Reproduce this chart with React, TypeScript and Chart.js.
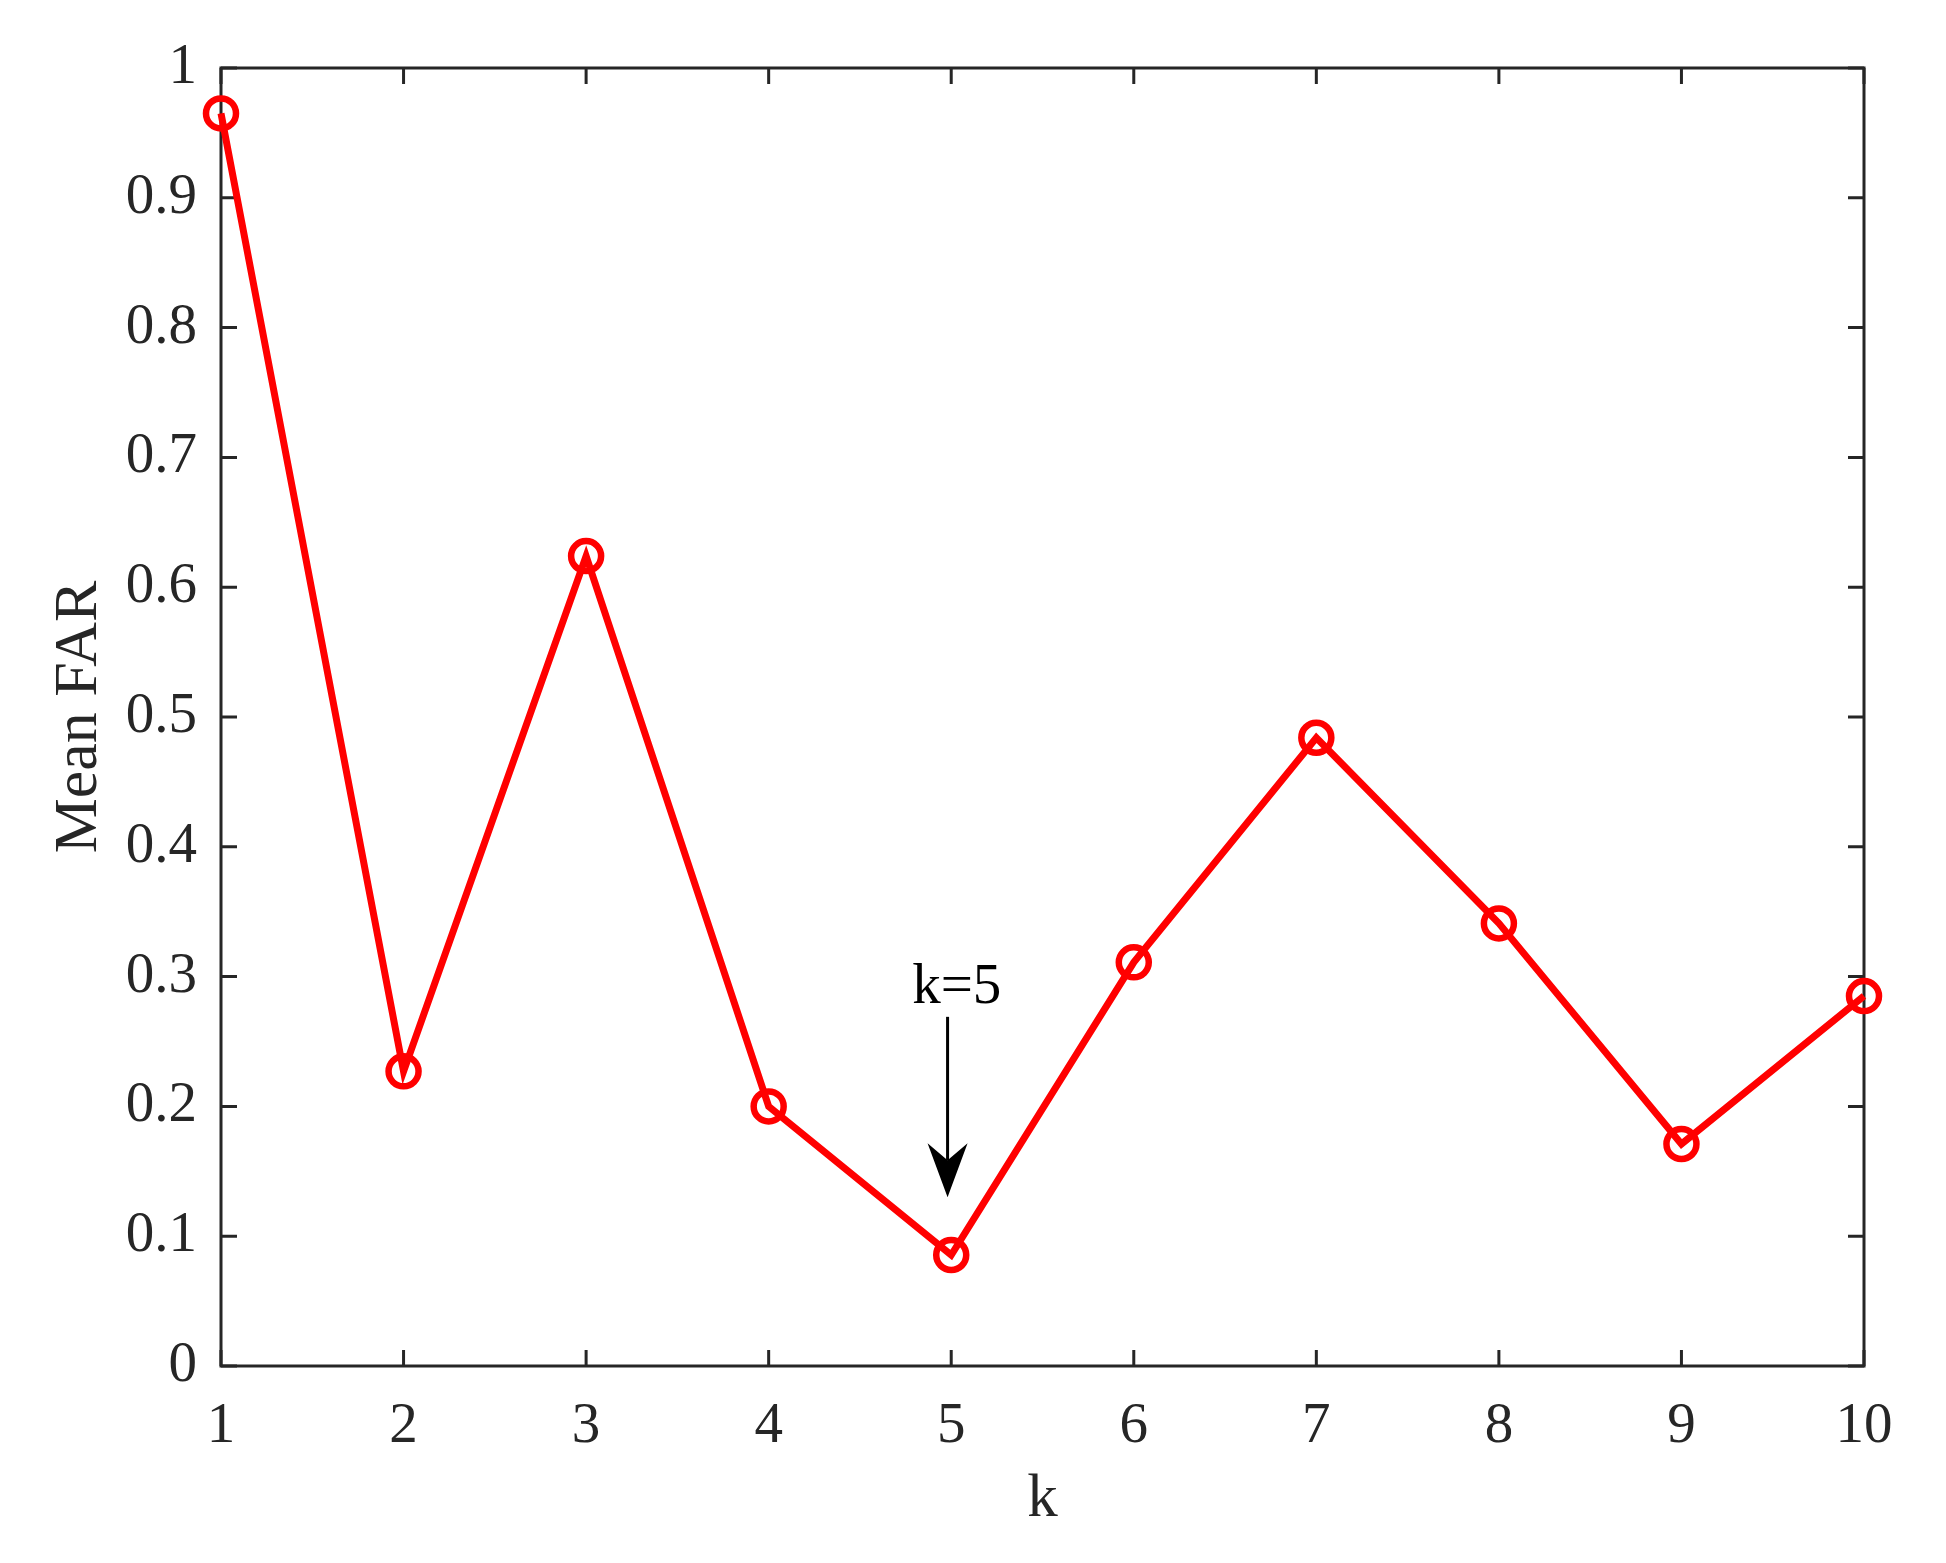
import React, { useEffect, useRef } from "react";
import { Chart, registerables } from "chart.js";

Chart.register(...registerables);

const kValues = [1, 2, 3, 4, 5, 6, 7, 8, 9, 10];
const meanFAR = [0.965, 0.227, 0.624, 0.2, 0.0855, 0.311, 0.484, 0.341, 0.171, 0.285];
const xTitle = "k";
const yTitle = "Mean FAR";
const annotationLabel = "k=5";
const annotationLabelX = 5.03;
const annotationLabelY = 0.28;
const arrowX = 4.98;
const arrowStartY = 0.269;
const arrowEndY = 0.13;

const AXIS_COLOR = "#262626";
const RED = "#FF0000";
const FONT = "'Liberation Serif', 'Times New Roman', serif";

const boxPlugin = {
  id: "matlabBox",
  beforeDatasetsDraw(chart: any) {
    const { ctx, chartArea: a, scales } = chart;
    const tl = 16;
    ctx.save();
    ctx.strokeStyle = AXIS_COLOR;
    ctx.lineWidth = 3;
    ctx.beginPath();
    scales.x.ticks.forEach((t: any) => {
      const px = scales.x.getPixelForValue(t.value);
      ctx.moveTo(px, a.bottom);
      ctx.lineTo(px, a.bottom - tl);
      ctx.moveTo(px, a.top);
      ctx.lineTo(px, a.top + tl);
    });
    scales.y.ticks.forEach((t: any) => {
      const py = scales.y.getPixelForValue(t.value);
      ctx.moveTo(a.left, py);
      ctx.lineTo(a.left + tl, py);
      ctx.moveTo(a.right, py);
      ctx.lineTo(a.right - tl, py);
    });
    ctx.stroke();
    ctx.strokeRect(a.left, a.top, a.right - a.left, a.bottom - a.top);
    ctx.restore();
  },
  afterDatasetsDraw(chart: any) {
    const { ctx, scales } = chart;
    const x = scales.x, y = scales.y;
    ctx.save();
    ctx.fillStyle = "#000";
    ctx.strokeStyle = "#000";
    ctx.font = `57px ${FONT}`;
    ctx.textAlign = "center";
    ctx.textBaseline = "alphabetic";
    ctx.fillText(annotationLabel, x.getPixelForValue(annotationLabelX), y.getPixelForValue(annotationLabelY));
    const ax = x.getPixelForValue(arrowX);
    const y0 = y.getPixelForValue(arrowStartY);
    const y1 = y.getPixelForValue(arrowEndY);
    const headLen = 54, headHalf = 20, notch = 37;
    ctx.lineWidth = 3;
    ctx.beginPath();
    ctx.moveTo(ax, y0);
    ctx.lineTo(ax, y1 - notch);
    ctx.stroke();
    ctx.beginPath();
    ctx.moveTo(ax, y1);
    ctx.lineTo(ax - headHalf, y1 - headLen);
    ctx.lineTo(ax, y1 - notch);
    ctx.lineTo(ax + headHalf, y1 - headLen);
    ctx.closePath();
    ctx.fill();
    ctx.restore();
  },
};

export default function App() {
  const ref = useRef<HTMLCanvasElement | null>(null);
  useEffect(() => {
    if (!ref.current) return;
    const chart = new Chart(ref.current, {
      type: "line",
      data: {
        datasets: [
          {
            data: kValues.map((k, i) => ({ x: k, y: meanFAR[i] })),
            borderColor: RED,
            borderWidth: 7,
            pointRadius: 15,
            pointBorderWidth: 6.5,
            pointBorderColor: RED,
            pointBackgroundColor: "rgba(0,0,0,0)",
            pointStyle: "circle",
            tension: 0,
            clip: false as any,
          },
        ],
      },
      options: {
        animation: false,
        responsive: false,
        maintainAspectRatio: false,
        layout: { padding: { left: 0, right: 82, top: 68, bottom: 0 } },
        plugins: { legend: { display: false }, tooltip: { enabled: false } },
        scales: {
          x: {
            type: "linear",
            min: 1,
            max: 10,
            afterFit: (s: any) => { s.height = 197; },
            ticks: {
              stepSize: 1,
              color: AXIS_COLOR,
              font: { family: FONT, size: 57 },
              padding: 27,
              maxRotation: 0,
              autoSkip: false,
            },
            grid: { display: false, drawTicks: false },
            border: { display: false },
            title: {
              display: true,
              text: xTitle,
              color: AXIS_COLOR,
              font: { family: FONT, size: 61 },
              padding: { top: 0, bottom: 26 },
            },
          },
          y: {
            type: "linear",
            min: 0,
            max: 1,
            afterFit: (s: any) => { s.width = 221; },
            ticks: {
              stepSize: 0.1,
              color: AXIS_COLOR,
              font: { family: FONT, size: 57 },
              padding: 24,
              callback: (v: any) => String(Number(Number(v).toFixed(1))),
            },
            grid: { display: false, drawTicks: false },
            border: { display: false },
            title: {
              display: true,
              text: yTitle,
              color: AXIS_COLOR,
              font: { family: FONT, size: 62 },
              padding: { top: 43, bottom: 0 },
            },
          },
        },
      },
      plugins: [boxPlugin],
    });
    return () => chart.destroy();
  }, []);
  return (
    <div style={{ position: "fixed", left: 0, top: 0, width: 1946, height: 1563, background: "#fff" }}>
      <canvas ref={ref} width={1946} height={1563} style={{ display: "block" }} />
    </div>
  );
}
